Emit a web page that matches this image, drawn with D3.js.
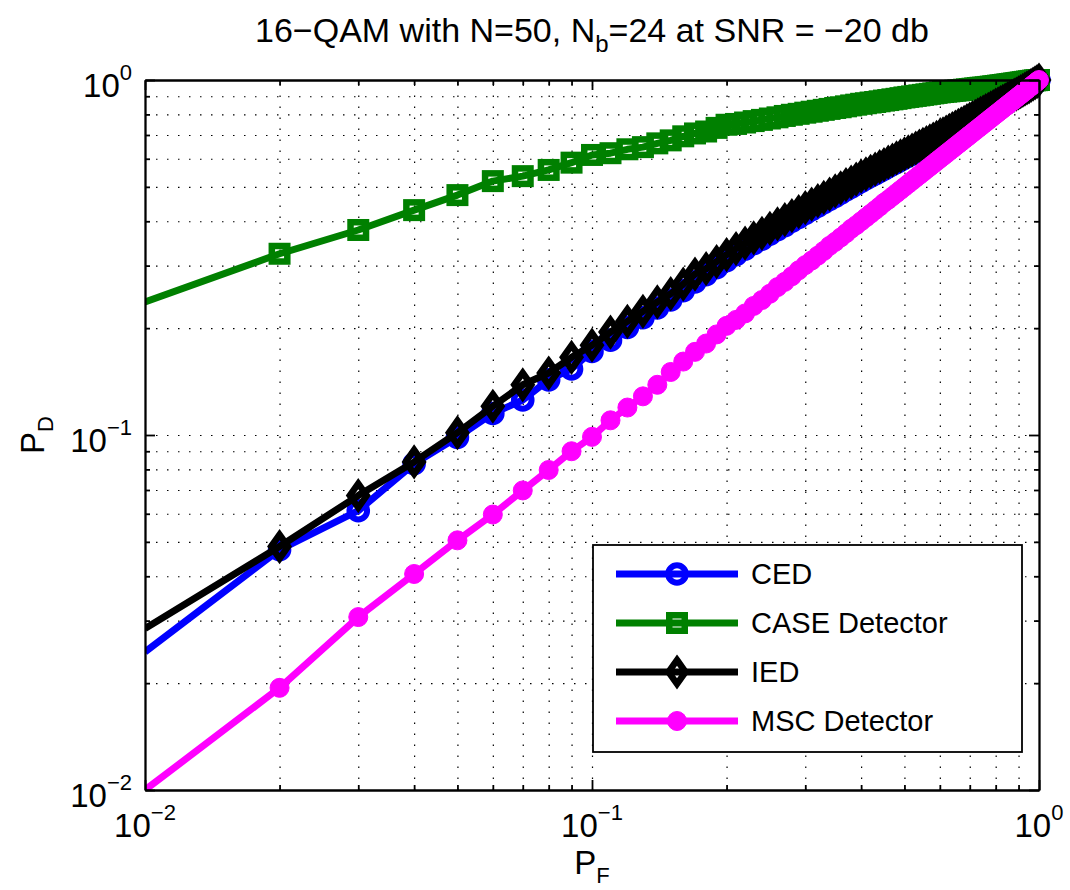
<!DOCTYPE html>
<html>
<head>
<meta charset="utf-8">
<title>16-QAM ROC</title>
<script src="https://cdn.jsdelivr.net/npm/d3@7/dist/d3.min.js"></script>
<style>
    body { margin: 0; background: #fff; font-family: "Liberation Sans", Arial, sans-serif; }
    .grid line { stroke: #000; stroke-width: 1.2; stroke-dasharray: 1.5, 9.5; }
    .grid path { display: none; }
    .axis path, .axis line { stroke: #000; stroke-width: 1.8; fill: none; }
    .line { fill: none; stroke-width: 7; stroke-linejoin: round; }
</style>
</head>
<body>
<script>
// probability of false alarm (x) - one point every 0.01
var pf = [0.01, 0.02, 0.03, 0.04, 0.05, 0.06, 0.07, 0.08, 0.09, 0.10,
    0.11, 0.12, 0.13, 0.14, 0.15, 0.16, 0.17, 0.18, 0.19, 0.20,
    0.21, 0.22, 0.23, 0.24, 0.25, 0.26, 0.27, 0.28, 0.29, 0.30,
    0.31, 0.32, 0.33, 0.34, 0.35, 0.36, 0.37, 0.38, 0.39, 0.40,
    0.41, 0.42, 0.43, 0.44, 0.45, 0.46, 0.47, 0.48, 0.49, 0.50,
    0.51, 0.52, 0.53, 0.54, 0.55, 0.56, 0.57, 0.58, 0.59, 0.60,
    0.61, 0.62, 0.63, 0.64, 0.65, 0.66, 0.67, 0.68, 0.69, 0.70,
    0.71, 0.72, 0.73, 0.74, 0.75, 0.76, 0.77, 0.78, 0.79, 0.80,
    0.81, 0.82, 0.83, 0.84, 0.85, 0.86, 0.87, 0.88, 0.89, 0.90,
    0.91, 0.92, 0.93, 0.94, 0.95, 0.96, 0.97, 0.98, 0.99, 1.00];

var ced = [0.0245, 0.0475, 0.0612, 0.0830, 0.0985, 0.1150, 0.1255, 0.1430, 0.1535, 0.1720,
    0.1850, 0.2010, 0.2140, 0.2280, 0.2400, 0.2550, 0.2700, 0.2830, 0.2960, 0.3100,
    0.3220, 0.3340, 0.3460, 0.3560, 0.3680, 0.3790, 0.3890, 0.4000, 0.4100, 0.4210,
    0.4310, 0.4410, 0.4510, 0.4610, 0.4700, 0.4800, 0.4900, 0.4990, 0.5090, 0.5180,
    0.5270, 0.5360, 0.5440, 0.5530, 0.5610, 0.5700, 0.5780, 0.5860, 0.5950, 0.6030,
    0.6110, 0.6190, 0.6270, 0.6350, 0.6430, 0.6510, 0.6590, 0.6670, 0.6740, 0.6820,
    0.6900, 0.6980, 0.7060, 0.7140, 0.7220, 0.7300, 0.7380, 0.7460, 0.7540, 0.7620,
    0.7700, 0.7770, 0.7850, 0.7930, 0.8000, 0.8080, 0.8160, 0.8230, 0.8310, 0.8390,
    0.8460, 0.8540, 0.8610, 0.8690, 0.8760, 0.8840, 0.8910, 0.8990, 0.9060, 0.9140,
    0.9220, 0.9300, 0.9380, 0.9460, 0.9540, 0.9620, 0.9700, 0.9790, 0.9890, 1.0000];

var caseDet = [0.237, 0.324, 0.378, 0.430, 0.474, 0.519, 0.536, 0.558, 0.585, 0.615,
    0.622, 0.638, 0.647, 0.663, 0.676, 0.694, 0.707, 0.716, 0.733, 0.748,
    0.752, 0.759, 0.766, 0.772, 0.779, 0.785, 0.792, 0.798, 0.803, 0.809,
    0.814, 0.819, 0.824, 0.829, 0.834, 0.838, 0.843, 0.848, 0.852, 0.857,
    0.860, 0.864, 0.867, 0.871, 0.875, 0.878, 0.882, 0.885, 0.889, 0.893,
    0.896, 0.899, 0.902, 0.905, 0.908, 0.911, 0.914, 0.917, 0.920, 0.923,
    0.925, 0.927, 0.929, 0.931, 0.933, 0.935, 0.937, 0.939, 0.941, 0.943,
    0.945, 0.947, 0.949, 0.951, 0.952, 0.954, 0.956, 0.958, 0.960, 0.962,
    0.964, 0.966, 0.968, 0.970, 0.972, 0.974, 0.976, 0.978, 0.980, 0.982,
    0.984, 0.986, 0.988, 0.990, 0.992, 0.994, 0.996, 0.998, 0.999, 1.000];

var ied = [0.0285, 0.0485, 0.0675, 0.0840, 0.1015, 0.1205, 0.1385, 0.1495, 0.1655, 0.1790,
    0.1950, 0.2090, 0.2230, 0.2370, 0.2500, 0.2660, 0.2840, 0.2940, 0.3080, 0.3220,
    0.3350, 0.3470, 0.3590, 0.3700, 0.3820, 0.3930, 0.4040, 0.4150, 0.4260, 0.4370,
    0.4470, 0.4570, 0.4670, 0.4770, 0.4870, 0.4970, 0.5070, 0.5160, 0.5260, 0.5360,
    0.5440, 0.5530, 0.5610, 0.5700, 0.5780, 0.5870, 0.5950, 0.6030, 0.6110, 0.6190,
    0.6270, 0.6350, 0.6430, 0.6510, 0.6590, 0.6660, 0.6740, 0.6820, 0.6890, 0.6970,
    0.7050, 0.7130, 0.7210, 0.7290, 0.7370, 0.7450, 0.7520, 0.7600, 0.7680, 0.7760,
    0.7830, 0.7900, 0.7980, 0.8050, 0.8120, 0.8200, 0.8270, 0.8340, 0.8420, 0.8490,
    0.8560, 0.8640, 0.8710, 0.8780, 0.8850, 0.8920, 0.8990, 0.9060, 0.9130, 0.9200,
    0.9280, 0.9350, 0.9420, 0.9500, 0.9570, 0.9650, 0.9730, 0.9810, 0.9900, 1.0000];

var msc = [0.0100, 0.0194, 0.0307, 0.0406, 0.0505, 0.0597, 0.0698, 0.0797, 0.0900, 0.0988,
    0.1100, 0.1195, 0.1285, 0.1385, 0.1505, 0.1610, 0.1715, 0.1810, 0.1920, 0.2030,
    0.2110, 0.2200, 0.2310, 0.2400, 0.2500, 0.2610, 0.2700, 0.2800, 0.2910, 0.3010,
    0.3100, 0.3200, 0.3300, 0.3410, 0.3500, 0.3600, 0.3700, 0.3810, 0.3900, 0.4000,
    0.4100, 0.4200, 0.4300, 0.4400, 0.4510, 0.4600, 0.4700, 0.4800, 0.4900, 0.5000,
    0.5100, 0.5200, 0.5300, 0.5400, 0.5500, 0.5600, 0.5700, 0.5800, 0.5900, 0.6000,
    0.6100, 0.6200, 0.6300, 0.6400, 0.6500, 0.6600, 0.6700, 0.6800, 0.6900, 0.7000,
    0.7100, 0.7200, 0.7300, 0.7400, 0.7500, 0.7600, 0.7700, 0.7800, 0.7900, 0.8000,
    0.8100, 0.8200, 0.8300, 0.8400, 0.8500, 0.8600, 0.8700, 0.8800, 0.8900, 0.9000,
    0.9100, 0.9200, 0.9300, 0.9400, 0.9500, 0.9600, 0.9700, 0.9800, 0.9900, 1.0000];

var seriesNames = ["CED", "CASE Detector", "IED", "MSC Detector"];
var majorTicks = [0.01, 0.1, 1];
var tickExponents = ["\u22122", "\u22121", "0"];
var minorTicks = [0.02, 0.03, 0.04, 0.05, 0.06, 0.07, 0.08, 0.09,
    0.2, 0.3, 0.4, 0.5, 0.6, 0.7, 0.8, 0.9];

var margin = { top: 80, right: 31, bottom: 100, left: 145 },
    width = 1070 - margin.left - margin.right,
    height = 890 - margin.top - margin.bottom;

var x = d3.scaleLog().domain([0.01, 1]).range([0, width]);
var y = d3.scaleLog().domain([0.01, 1]).range([height, 0]);

var svg = d3.select("body").append("svg")
    .attr("width", 1070)
    .attr("height", 890);

var g = svg.append("g")
    .attr("transform", "translate(" + margin.left + "," + margin.top + ")");

// dotted grid (major + minor)
var gridVals = minorTicks.concat([0.1]);
g.append("g")
    .attr("class", "grid")
    .attr("transform", "translate(0," + height + ")")
    .call(d3.axisBottom(x).tickValues(gridVals).tickSize(-height).tickFormat(""));
g.append("g")
    .attr("class", "grid")
    .call(d3.axisLeft(y).tickValues(gridVals).tickSize(-width).tickFormat(""));

// series
var series = [
    { name: seriesNames[0], values: ced, color: "#0000ff", marker: "circle" },
    { name: seriesNames[1], values: caseDet, color: "#008000", marker: "square" },
    { name: seriesNames[2], values: ied, color: "#000000", marker: "diamond" },
    { name: seriesNames[3], values: msc, color: "#ff00ff", marker: "dot" }
];

var line = d3.line()
    .x(function (d) { return x(d[0]); })
    .y(function (d) { return y(d[1]); });

function drawMarker(sel, type, color) {
    if (type == "circle") {
        sel.append("circle").attr("r", 8.8)
            .attr("fill", "none").attr("stroke", color).attr("stroke-width", 6);
    } else if (type == "square") {
        sel.append("rect").attr("x", -7.75).attr("y", -7.75)
            .attr("width", 15.5).attr("height", 15.5)
            .attr("fill", "none").attr("stroke", color).attr("stroke-width", 6.5);
    } else if (type == "diamond") {
        sel.append("path").attr("d", "M0,-12L8.5,0L0,12L-8.5,0Z")
            .attr("fill", "none").attr("stroke", color).attr("stroke-width", 6.5);
    } else {
        sel.append("circle").attr("r", 9.5)
            .attr("fill", color).attr("stroke", color).attr("stroke-width", 1);
    }
}

svg.append("defs").append("clipPath").attr("id", "plotclip")
    .append("rect").attr("width", width).attr("height", height);

series.forEach(function (s) {
    var pts = pf.map(function (p, i) { return [p, s.values[i]]; });
    g.append("path")
        .datum(pts)
        .attr("class", "line")
        .attr("clip-path", "url(#plotclip)")
        .attr("stroke", s.color)
        .attr("d", line);
    // markers on the left boundary are clipped away, as in the original
    pts.slice(1).forEach(function (d) {
        var m = g.append("g")
            .attr("transform", "translate(" + x(d[0]) + "," + y(d[1]) + ")");
        drawMarker(m, s.marker, s.color);
    });
});

// axes box with inward ticks
function boxAxis(axisFn, scale, transform) {
    var a = g.append("g").attr("class", "axis").attr("transform", transform);
    a.call(axisFn(scale).tickValues(minorTicks).tickSizeInner(-5).tickSizeOuter(0).tickFormat(""));
    var b = g.append("g").attr("class", "axis").attr("transform", transform);
    b.call(axisFn(scale).tickValues(majorTicks).tickSizeInner(-10).tickSizeOuter(0).tickFormat(""));
}
boxAxis(d3.axisBottom, x, "translate(0," + height + ")");
boxAxis(d3.axisTop, x, "translate(0,0)");
boxAxis(d3.axisLeft, y, "translate(0,0)");
boxAxis(d3.axisRight, y, "translate(" + width + ",0)");

// tick labels 10^n
var fs = 33, fsExp = 22;
majorTicks.forEach(function (v, i) {
    var t = g.append("text")
        .attr("x", x(v))
        .attr("y", height + 47)
        .attr("text-anchor", "middle")
        .style("font-size", fs + "px");
    t.append("tspan").text("10");
    t.append("tspan").attr("dy", -17).style("font-size", fsExp + "px").text(tickExponents[i]);

    var t2 = g.append("text")
        .attr("x", -13)
        .attr("y", y(v) + 17)
        .attr("text-anchor", "end")
        .style("font-size", fs + "px");
    t2.append("tspan").text("10");
    t2.append("tspan").attr("dy", -17).style("font-size", fsExp + "px").text(tickExponents[i]);
});

// axis labels
var xl = svg.append("text")
    .attr("x", margin.left + width / 2)
    .attr("y", 874)
    .attr("text-anchor", "middle")
    .style("font-size", "33px");
xl.append("tspan").text("P");
xl.append("tspan").attr("dy", 9).style("font-size", "22px").text("F");

var yl = svg.append("text")
    .attr("transform", "translate(44," + (margin.top + height / 2) + ") rotate(-90)")
    .attr("text-anchor", "middle")
    .style("font-size", "33px");
yl.append("tspan").text("P");
yl.append("tspan").attr("dy", 9).style("font-size", "22px").text("D");

// title
var title = svg.append("text")
    .attr("x", margin.left + width / 2)
    .attr("y", 42)
    .attr("text-anchor", "middle")
    .style("font-size", "34px");
title.append("tspan").text("16\u2212QAM with N=50, N");
title.append("tspan").attr("dy", 10).style("font-size", "24px").text("b");
title.append("tspan").attr("dy", -10).text("=24 at SNR = \u221220 db");

// legend
var legend = svg.append("g").attr("transform", "translate(593,545)");
legend.append("rect")
    .attr("width", 429).attr("height", 207)
    .attr("fill", "#fff").attr("stroke", "#000").attr("stroke-width", 1.8);
series.forEach(function (s, i) {
    var ly = 29 + i * 49;
    legend.append("line")
        .attr("x1", 23).attr("x2", 145).attr("y1", ly).attr("y2", ly)
        .attr("stroke", s.color).attr("stroke-width", 7);
    var m = legend.append("g").attr("transform", "translate(84," + ly + ")");
    drawMarker(m, s.marker, s.color);
    legend.append("text")
        .attr("x", 158).attr("y", ly + 10)
        .style("font-size", "29px")
        .text(s.name);
});
</script>
</body>
</html>
